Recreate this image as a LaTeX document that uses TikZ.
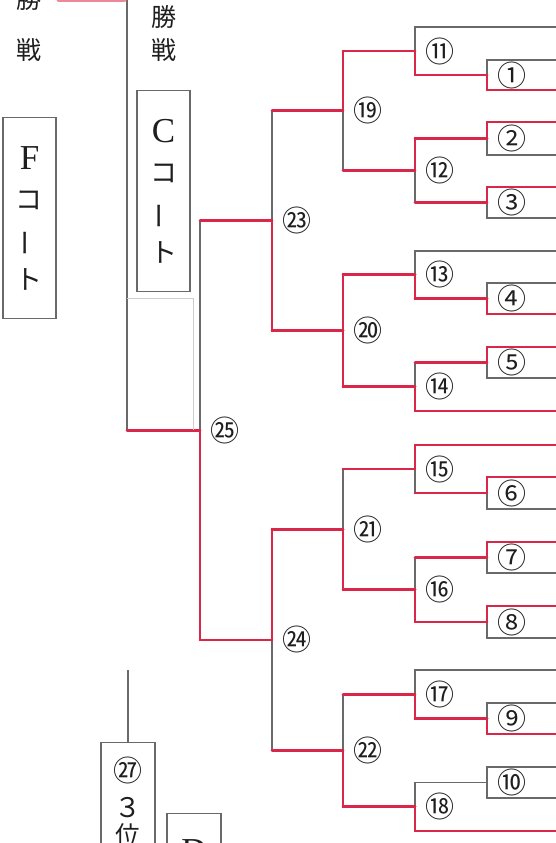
\documentclass[tikz,border=0pt]{standalone}
\usepackage{fontspec}
\setmainfont{Liberation Serif}
\newfontfamily\jpfont{Noto Sans CJK JP}
\usepackage{graphicx}
\usetikzlibrary{positioning,calc}
\definecolor{MarkRed}{RGB}{218,38,72}
\definecolor{LineGray}{RGB}{105,105,105}
\definecolor{FaintGray}{RGB}{205,205,205}
\definecolor{InkBlack}{RGB}{30,30,30}
\newcommand\latcourt{\rmfamily\fontsize{35}{40}\selectfont}

\begin{document}
\begin{tikzpicture}[x=1pt,y=-1pt,
    gline/.style={draw=LineGray,line width=1.1pt},
    rline/.style={draw=MarkRed,line width=2.6pt,line cap=round},
    fline/.style={draw=FaintGray,line width=0.9pt},
    num/.style={font=\jpfont\fontsize{29}{29}\selectfont,text=InkBlack,inner sep=0pt},
    kanji/.style={font=\jpfont\fontsize{25}{25}\selectfont,text=InkBlack,inner sep=0pt},
    court/.style={draw=LineGray,line width=1.1pt,minimum width=53pt,minimum height=201pt,
                  inner sep=0pt,align=center,text=InkBlack,
                  font=\jpfont\fontsize{27}{40}\selectfont},
    cbox/.style={draw=LineGray,line width=1.1pt,minimum width=54pt,inner sep=0pt,anchor=north}]

  \useasboundingbox (0,0) rectangle (556,843);

  \foreach \k/\y/\t/\b in {1/75/60/90, 2/138.5/122/155, 3/202.5/187/218, 4/298.5/283/314,
                          5/362.5/347/378, 6/493/477/509, 7/557.5/542/573, 8/622/606/638,
                          9/718.5/703/734, 10/782.5/767/798} {
    \coordinate (o\k) at (487,\y);
    \coordinate (pa\k) at (560,\t);
    \coordinate (pb\k) at (560,\b);
  }
  \foreach \k/\x/\y in {11/415/51, 12/415/170.5, 13/415/274.75, 14/415/386.75,
                       15/415/469, 16/415/589.75, 17/415/694.25, 18/415/806.75,
                       19/343/110.75, 20/343/330.75, 21/343/529.4, 22/343/750.5,
                       23/272/220.75, 24/272/639.9, 25/200/430.3}
    \coordinate (o\k) at (\x,\y);
  \coordinate (pa11) at (560,27);
  \coordinate (pa13) at (560,251);
  \coordinate (pb14) at (560,411);
  \coordinate (pa15) at (560,445);
  \coordinate (pa17) at (560,670);
  \coordinate (pb18) at (560,831);
  \coordinate (fin) at (127,430.3);
  \coordinate (fintop) at (127,-5);

  \foreach \k in {1,...,10}
    \draw[gline] (pa\k) -| (o\k) |- (pb\k);
  \foreach \p/\c in {11/pa11, 11/o1, 12/o2, 12/o3, 13/pa13, 13/o4, 14/o5, 14/pb14,
                     15/pa15, 15/o6, 16/o7, 16/o8, 17/pa17, 17/o9, 18/o10, 18/pb18,
                     19/o11, 19/o12, 20/o13, 20/o14, 21/o15, 21/o16, 22/o17, 22/o18,
                     23/o19, 23/o20, 24/o21, 24/o22, 25/o23, 25/o24}
    \draw[gline] (o\p) |- (\c);
  \draw[gline] (fin) -- (fintop);

  \foreach \c/\p in {1/11, 2/12, 3/12, 4/13, 5/14, 6/15, 7/16, 8/16, 9/17, 11/19, 12/19,
                     13/20, 14/20, 15/21, 16/21, 17/22, 18/22, 19/23, 20/23, 21/24, 22/24,
                     23/25, 24/25}
    \draw[rline] (o\c) -- (o\c -| o\p);
  \foreach \p/\c in {1/pb1, 2/pa2, 3/pa3, 4/pb4, 5/pa5, 6/pa6, 7/pa7, 8/pa8, 9/pb9,
                     11/o1, 12/o2, 13/o4, 14/pb14, 15/pa15, 16/o8, 17/o9, 18/pb18,
                     19/o11, 20/o13, 20/o14, 21/o16, 22/o18, 23/o20, 24/o21, 25/o24}
    \draw[rline] (o\p) |- (\c);
  \draw[rline] (o25) -- (fin);

  \foreach \k/\s in {1/①, 2/②, 3/③, 4/④, 5/⑤, 6/⑥, 7/⑦, 8/⑧, 9/⑨, 10/⑩,
                     11/⑪, 12/⑫, 13/⑬, 14/⑭, 15/⑮, 16/⑯, 17/⑰, 18/⑱,
                     19/⑲, 20/⑳, 21/㉑, 22/㉒, 23/㉓, 24/㉔, 25/㉕}
    \node[num] (n\k) at ([xshift=25pt]o\k) {\s};

  \coordinate (fa) at (127,298);
  \coordinate (fb) at (193,298);
  \coordinate (fc) at (193,430.3);
  \draw[fline] (fa) -- (fb) -- (fc);
  \coordinate (tl) at (58,0.5);
  \coordinate (tr) at (125,0.5);
  \draw[rline,draw=MarkRed!55] (tl) -- (tr);

  \node[kanji] (lsho) at (29,-1) {勝};
  \node[kanji] (lsen) at (29,50) {戦};
  \node[kanji] (rsho) at (163.5,17) {勝};
  \node[kanji] (rsen) at (163.5,50) {戦};

  \node[court] (fcourt) at (29.5,218)
    {{\latcourt F}\\コ\\\rotatebox[origin=c]{90}{ー}\\ト};
  \node[court] (ccourt) at (163.5,191)
    {{\latcourt C}\\コ\\\rotatebox[origin=c]{90}{ー}\\ト};

  \coordinate (q27) at (128,670);
  \node[cbox,minimum height=140pt] (box27) at (128,742) {};
  \draw[gline] (q27) -- (box27.north);
  \node[num] (n27) at (128,770) {㉗};
  \node[kanji,font=\jpfont\fontsize{27}{27}\selectfont] (san) at (128,808) {３};
  \node[kanji] (i) at (128,835) {位};
  \node[cbox,minimum height=80pt] (boxd) at (194,813) {};
  \node[inner sep=0pt,text=InkBlack] (dcourt) at (194,851) {\latcourt D};
\end{tikzpicture}
\end{document}
